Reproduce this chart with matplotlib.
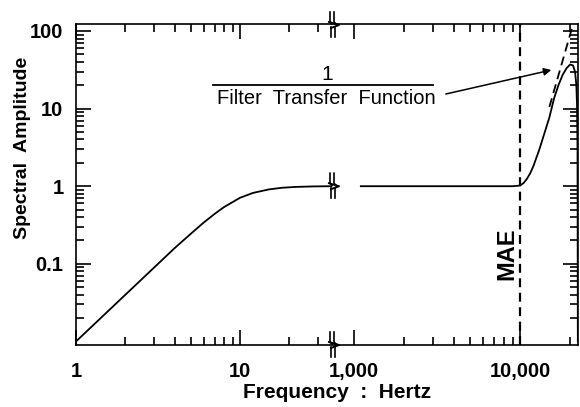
import numpy as np
import matplotlib
matplotlib.use('Agg')
import matplotlib.pyplot as plt
from matplotlib.ticker import FixedLocator, NullFormatter

plt.rcParams['font.family'] = ['Liberation Sans', 'DejaVu Sans']

# low-frequency segment (left of the axis break)
freq_lo = [1, 2, 3, 4, 5, 6, 7, 8, 10, 12, 15, 18, 22, 28, 36]
amp_lo = [0.01, 0.04, 0.09, 0.16, 0.243, 0.34, 0.44, 0.54, 0.71, 0.82, 0.91, 0.955, 0.98, 0.994, 1.0]

# high-frequency segment (right of the axis break)
freq_hi = [1100, 2000, 5000, 9000, 10000, 10500, 11000, 11500, 12000, 13000, 14000, 15000,
           16000, 17000, 18000, 19000, 20000, 20800, 21400, 21800, 22000, 22150, 22250]
amp_hi = [1, 1, 1, 1, 1.02, 1.1, 1.25, 1.47, 1.8, 2.9, 4.8, 7.7,
          13.5, 20, 27, 33, 37, 36, 30, 20, 11, 3, 0.01]

# 1 / filter transfer function (dashed)
freq_inv = [15000, 21000]
amp_inv = [10.5, 130]

mae_freq = 10000
y_ticks = [0.1, 1, 10, 100]
y_labels = ['0.1', '1', '10', '100']
x_ticks_lo = [1, 10]
x_labels_lo = ['1', '10']
x_ticks_hi = [1000, 10000]
x_labels_hi = ['1,000', '10,000']

fig = plt.figure(figsize=(5.8, 4.07), dpi=100)
W, H = 580, 407
x0, xb, x1 = 76, 335, 578
ytop, ybot = 24, 345
ax1 = fig.add_axes([x0 / W, 1 - ybot / H, (xb - x0) / W, (ybot - ytop) / H])
ax2 = fig.add_axes([xb / W, 1 - ybot / H, (x1 - xb) / W, (ybot - ytop) / H])

for ax in (ax1, ax2):
    ax.set_xscale('log')
    ax.set_yscale('log')
    ax.set_ylim(0.009, 123)
    ax.tick_params(which='both', direction='in', top=True, labelsize=14.5, width=1.2)
    ax.tick_params(which='major', length=11)
    ax.tick_params(which='minor', length=6)
    for s in ax.spines.values():
        s.set_linewidth(1.2)

ax1.set_xlim(1, 37.9)
ax2.set_xlim(769, 22300)

ax1.plot(freq_lo, amp_lo, color='black', lw=1.3)
ax2.plot(freq_hi, amp_hi, color='black', lw=1.3)
ax2.plot(freq_inv, amp_inv, color='black', lw=1.3, ls=(0, (5, 3)))
ax2.axvline(mae_freq, color='black', lw=1.6, ls=(0, (4, 2.5)))

# ticks
ax1.xaxis.set_major_locator(FixedLocator(x_ticks_lo))
ax1.set_xticklabels(x_labels_lo, fontweight='bold')
ax1.xaxis.set_minor_locator(FixedLocator([2, 3, 4, 5, 6, 7, 8, 9, 20, 30]))
ax1.xaxis.set_minor_formatter(NullFormatter())
ax2.xaxis.set_major_locator(FixedLocator(x_ticks_hi))
ax2.set_xticklabels(x_labels_hi, fontweight='bold')
ax2.xaxis.set_minor_locator(FixedLocator([2000, 3000, 4000, 5000, 6000, 7000, 8000, 9000, 20000]))
ax2.xaxis.set_minor_formatter(NullFormatter())

minor_y = [v * m for v in [0.01, 0.1, 1, 10] for m in range(2, 10)]
ax1.yaxis.set_major_locator(FixedLocator(y_ticks))
ax1.set_yticklabels(y_labels, fontweight='bold')
ax1.yaxis.set_minor_locator(FixedLocator(minor_y))
ax1.yaxis.set_minor_formatter(NullFormatter())
ax1.tick_params(axis='y', which='both', right=False)
ax1.spines['right'].set_visible(False)

ax2.yaxis.set_major_locator(FixedLocator(y_ticks))
ax2.yaxis.set_minor_locator(FixedLocator(minor_y))
ax2.yaxis.set_minor_formatter(NullFormatter())
ax2.tick_params(axis='y', which='both', left=False, right=True, labelleft=False)
ax2.spines['left'].set_visible(False)

ax1.tick_params(axis='x', pad=12)
ax2.tick_params(axis='x', pad=12)
ax1.tick_params(axis='y', pad=9)


# break marks (drawn in pixel units) at top, curve level and bottom
def fig_line(xs, ys, lw=1.2):
    fig.add_artist(plt.Line2D([x / W for x in xs], [1 - y / H for y in ys],
                              color='black', lw=lw))


bx = 333
y_one = ytop + (ybot - ytop) * np.log10(123 / 1) / np.log10(123 / 0.009)
for by in (ytop + 1, y_one, ybot):
    fig_line([bx - 3, bx - 3, bx - 1], [by - 13, by - 3, by - 1])
    fig_line([bx + 1, bx + 1, bx + 3], [by - 13, by - 3, by - 1])
    fig_line([bx - 2, bx - 2], [by + 2, by + 12])
    fig_line([bx + 2, bx + 2], [by + 2, by + 12])
    fig_line([bx - 4, bx + 6, bx - 2], [by - 3, by, by + 3], lw=1.4)

fig.text(23 / W, 1 - 148 / H, 'Spectral  Amplitude', fontsize=14, fontweight='bold',
         rotation=90, ha='center', va='center')
fig.text(337 / W, 1 - 393 / H, 'Frequency  :  Hertz', fontsize=15, ha='center', va='center',
         fontweight='bold')

ax2.text(mae_freq * 0.975, 0.135, 'MAE', rotation=90, ha='right', va='center',
         fontsize=17, fontweight='bold')

# annotation: 1 / Filter Transfer Function
fig.text(327 / W, 1 - 74 / H, '1', fontsize=15, ha='center', va='center')
fig_line([213, 433], [85, 85], lw=1.3)
fig.text(326 / W, 1 - 99 / H, 'Filter  Transfer  Function', fontsize=14.5, ha='center',
         va='center')
ax2.annotate('', xy=(16000, 32), xytext=(0.445, 0.78),
             textcoords='axes fraction',
             arrowprops=dict(arrowstyle='-|>', color='black', lw=1.1, mutation_scale=11))

fig.savefig('out.png', dpi=100)
